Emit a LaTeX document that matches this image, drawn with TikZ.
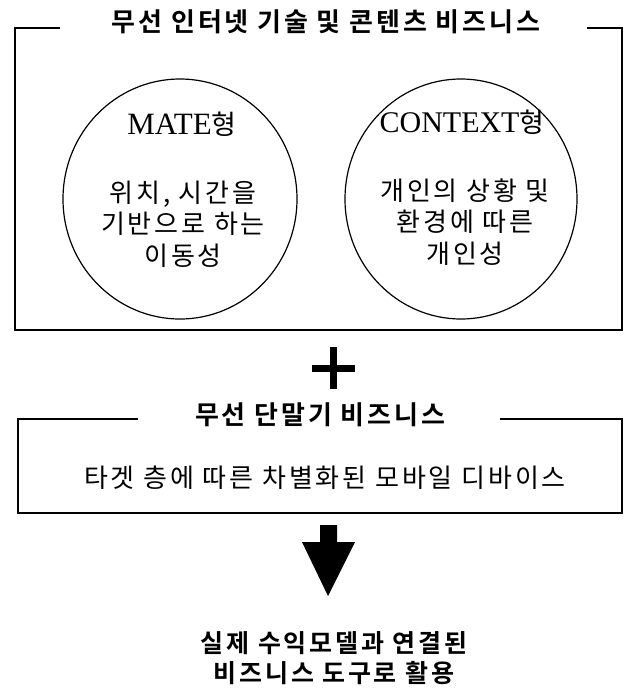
\documentclass[tikz,border=0pt]{standalone}
\usepackage{fontspec}
\setmainfont{Noto Sans CJK KR}
\newfontfamily\lat{Liberation Serif}
\newfontfamily\kr[LetterSpace=11]{Noto Sans CJK KR}
\newfontfamily\krb[LetterSpace=11]{Noto Sans CJK KR Bold}
\begin{document}
\begin{tikzpicture}[x=1pt,y=-1pt,
  frame/.style={line width=1.6pt},
  ring/.style={line width=1.2pt},
  head/.style={font=\fontsize{26}{30}\selectfont\krb, inner sep=0pt},
  body/.style={font=\fontsize{26}{31.5}\selectfont\kr, align=center, inner sep=0pt},
  typ/.style={font=\fontsize{27}{30}\selectfont, inner sep=0pt}]
\useasboundingbox (0,0) rectangle (634,689);
% top box
\node[head] (t1) at (326,22) {무선 인터넷 기술 및 콘텐츠 비즈니스};
\draw[frame] (60,28) -- (15,28) -- (15,330) -- (622,330) -- (622,28) -- (587,28);
% circles
\draw[ring] (180,199) ellipse (117 and 120);
\draw[ring] (461,199) ellipse (116 and 120);
\node[typ] (m) at (182,124) {{\lat\fontsize{31}{32}\selectfont MATE}형};
\node[body] (mt) at (183,224) {위치, 시간을\\기반으로 하는\\이동성};
\node[typ] (c) at (462,122) {{\lat\fontsize{30}{32}\selectfont CONTEXT}형};
\node[body] (ct) at (465,222) {개인의 상황 및\\환경에 따른\\개인성};
% plus
\draw[line width=7pt] (312,368) -- (355,368);
\draw[line width=7pt] (333.5,347) -- (333.5,389);
% second box
\node[head] (t2) at (320,415) {무선 단말기 비즈니스};
\draw[frame] (138,419) -- (18,419) -- (18,513) -- (622,513) -- (622,419) -- (500,419);
\node[body] (bt) at (325,478) {타겟 층에 따른 차별화된 모바일 디바이스};
% arrow
\fill (320,525) -- (337,525) -- (337,542) -- (355,542) -- (328,596) -- (302,542) -- (320,542) -- cycle;
% bottom text
\node[head, align=center, font=\fontsize{25}{29.5}\selectfont\krb] (bot) at (334,658) {실제 수익모델과 연결된\\비즈니스 도구로 활용};
\end{tikzpicture}
\end{document}
